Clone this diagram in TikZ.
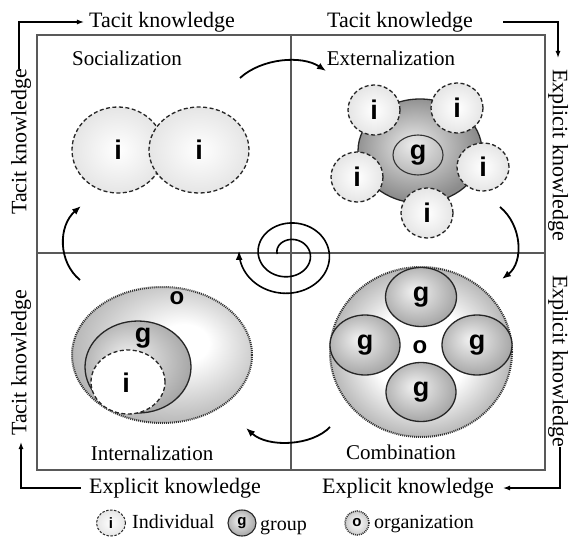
\documentclass[tikz,border=0pt]{standalone}
\usepackage{fontspec}
\setmainfont{Liberation Serif}
\newfontfamily\letfont{Liberation Sans}
\usetikzlibrary{arrows.meta,shapes.geometric}
\pgfdeclareradialshading{orgoff}{\pgfpoint{7bp}{5bp}}{color(0bp)=(white); color(7bp)=(white); color(30bp)=(gray!62); color(50bp)=(gray!62)}
\pgfdeclareradialshading{orgmid}{\pgfpoint{0bp}{0bp}}{color(0bp)=(white); color(13bp)=(white); color(26bp)=(gray!60); color(50bp)=(gray!60)}
\pgfdeclareradialshading{grpoff}{\pgfpoint{-5bp}{5bp}}{color(0bp)=(gray!10); color(30bp)=(gray!75); color(50bp)=(gray!75)}
\pgfdeclareradialshading{blob}{\pgfpoint{-3bp}{3bp}}{color(0bp)=(gray!15); color(25bp)=(gray!90); color(50bp)=(gray!90)}
\begin{document}
\begin{tikzpicture}[x=1pt,y=-1pt,
  lbl/.style={font=\fontsize{21}{25}\selectfont, inner sep=0pt},
  olbl/.style={font=\fontsize{22}{26}\selectfont, inner sep=0pt},
  leg/.style={font=\fontsize{20}{23}\selectfont, inner sep=0pt, anchor=west},
  frameline/.style={draw=gray!70!black, line width=1.4pt},
  conn/.style={draw=black, line width=1.2pt, -{Latex[length=7pt,width=5pt]}},
  cyc/.style={draw=black, line width=1.8pt, -{Latex[length=9pt,width=7pt]}},
  indiv/.style={ellipse, draw=gray!30!black, dash pattern=on 4pt off 2.5pt, line width=1.3pt, shade, shading=radial, inner color=white, outer color=gray!20, inner sep=0pt},
  grp/.style={ellipse, draw=black!85, line width=1.3pt, shade, shading=grpoff, inner sep=0pt},
  org/.style={ellipse, draw=gray!40!black, dash pattern=on 1pt off 1pt, line width=2pt, shade, shading=orgoff, inner sep=0pt},
  ltr/.style={font=\letfont\bfseries\fontsize{27}{30}\selectfont, inner sep=0pt},
]
\useasboundingbox (0,0) rectangle (569,553);
\fill[white] (0,0) rectangle (569,553);

% frame
\draw[frameline] (37,35) rectangle (545,470);
\draw[frameline] (291,35) -- (291,470);
\draw[frameline] (37,253) -- (545,253);

% outer labels
\node[olbl] (tk1) at (162,22) {Tacit knowledge};
\node[olbl] (tk2) at (400,22) {Tacit knowledge};
\node[olbl, rotate=90] (tk3) at (21,142) {Tacit knowledge};
\node[olbl, rotate=90] (tk4) at (21,363) {Tacit knowledge};
\node[olbl, rotate=-90] (ek1) at (558,155) {Explicit knowledge};
\node[olbl, rotate=-90] (ek2) at (558,361) {Explicit knowledge};
\node[olbl] (ek3) at (175,488) {Explicit knowledge};
\node[olbl] (ek4) at (408,488) {Explicit knowledge};

\draw[conn] ([xshift=-2pt]tk3.east) |- ([xshift=-5pt]tk1.west);
\draw[conn] ([xshift=30pt]tk2.east) -| ([yshift=11pt]ek1.west);
\draw[conn] ([xshift=2pt]ek2.east) |- ([xshift=9pt]ek4.east);
\draw[conn] ([xshift=-8pt]ek3.west) -| ([yshift=-6pt]tk4.west);

% quadrant names
\node[lbl] (soc) at (127,58) {Socialization};
\node[lbl] (ext) at (391,58) {Externalization};
\node[lbl] (int) at (152,453) {Internalization};
\node[lbl] (com) at (401,452) {Combination};

% Socialization
\node[indiv, minimum width=92pt, minimum height=86pt] (s1) at (118,150) {};
\node[indiv, minimum width=100pt, minimum height=86pt] (s2) at (199,150) {};
\node[ltr] (s1l) at (s1) {i};
\node[ltr] (s2l) at (s2) {i};

% Externalization
\node[grp, shading=blob, minimum width=124pt, minimum height=104pt] (eg) at (420,151) {};
\node[ellipse, draw=black!80, line width=1.1pt, minimum width=50pt, minimum height=40pt, inner sep=0pt, font=\letfont\bfseries\fontsize{27}{30}\selectfont] (egc) at (418,155) {g};
\node[indiv, minimum width=52pt, minimum height=50pt, font=\letfont\bfseries\fontsize{27}{30}\selectfont] (e1) at (374,110) {i};
\node[indiv, minimum width=52pt, minimum height=50pt, font=\letfont\bfseries\fontsize{27}{30}\selectfont] (e2) at (457,108) {i};
\node[indiv, minimum width=52pt, minimum height=50pt, font=\letfont\bfseries\fontsize{27}{30}\selectfont] (e3) at (357,177) {i};
\node[indiv, minimum width=52pt, minimum height=48pt, font=\letfont\bfseries\fontsize{27}{30}\selectfont] (e4) at (483,167) {i};
\node[indiv, minimum width=52pt, minimum height=50pt, font=\letfont\bfseries\fontsize{27}{30}\selectfont] (e5) at (427,213) {i};

% Combination
\node[org, shading=orgmid, minimum width=182pt, minimum height=170pt] (co) at (421,352) {};
\node[grp, minimum width=71pt, minimum height=59pt, font=\letfont\bfseries\fontsize{27}{30}\selectfont] (c1) at (421,297) {g};
\node[grp, minimum width=70pt, minimum height=60pt, font=\letfont\bfseries\fontsize{27}{30}\selectfont] (c2) at (365,345) {g};
\node[grp, minimum width=70pt, minimum height=60pt, font=\letfont\bfseries\fontsize{27}{30}\selectfont] (c3) at (477,345) {g};
\node[grp, minimum width=70pt, minimum height=59pt, font=\letfont\bfseries\fontsize{27}{30}\selectfont] (c4) at (421,392) {g};
\node[ltr, font=\letfont\bfseries\fontsize{24}{26}\selectfont] (col) at (420,347) {o};

% Internalization
\node[org, minimum width=180pt, minimum height=136pt] (io) at (162,355) {};
\node[grp, minimum width=106pt, minimum height=92pt] (ig) at (138,367) {};
\node[indiv, minimum width=74pt, minimum height=64pt, inner color=white, outer color=white] (ii) at (128,382) {};
\node[ltr, font=\letfont\bfseries\fontsize{24}{26}\selectfont] (iol) at (177,298) {o};
\node[ltr] (igl) at (143,338) {g};
\node[ltr] (iil) at (126,383) {i};

% cycle arrows
\coordinate (a1s) at (240,78);  \coordinate (a1e) at (326,71);
\coordinate (a2s) at (500,207); \coordinate (a2e) at (502,279);
\coordinate (a3s) at (330,427); \coordinate (a3e) at (246,428);
\coordinate (a4s) at (80,280);  \coordinate (a4e) at (81,206);
\draw[cyc] (a1s) .. controls (262,58) and (302,55) .. (a1e);
\draw[cyc] (a2s) .. controls (522,225) and (524,262) .. (a2e);
\draw[cyc] (a3s) .. controls (312,446) and (268,448) .. (a3e);
\draw[cyc] (a4s) .. controls (58,262) and (58,226) .. (a4e);

% spiral
\draw[cyc, line width=1.6pt] plot[domain=0:724, samples=220, smooth] ({289-(11.7+0.053*\x)*cos(\x)}, {254-0.87*(11.7+0.053*\x)*sin(\x)});

% legend
\node[indiv, minimum width=29pt, minimum height=26pt, line width=1pt, dash pattern=on 2.5pt off 1.5pt, font=\letfont\bfseries\fontsize{15}{17}\selectfont] (li) at (111,523) {i};
\node[leg] (lit) at (132,522) {Individual};
\node[grp, minimum width=28pt, minimum height=26pt, line width=1.1pt, font=\letfont\bfseries\fontsize{15}{17}\selectfont] (lg) at (242,523) {g};
\node[leg] (lgt) at (260,528) {group};
\node[org, minimum width=24pt, minimum height=24pt, line width=1.6pt, shading=radial, inner color=white, outer color=gray!40, font=\letfont\bfseries\fontsize{15}{17}\selectfont] (lo) at (357,523) {o};
\node[leg] (lot) at (374,524) {organization};
\end{tikzpicture}
\end{document}
